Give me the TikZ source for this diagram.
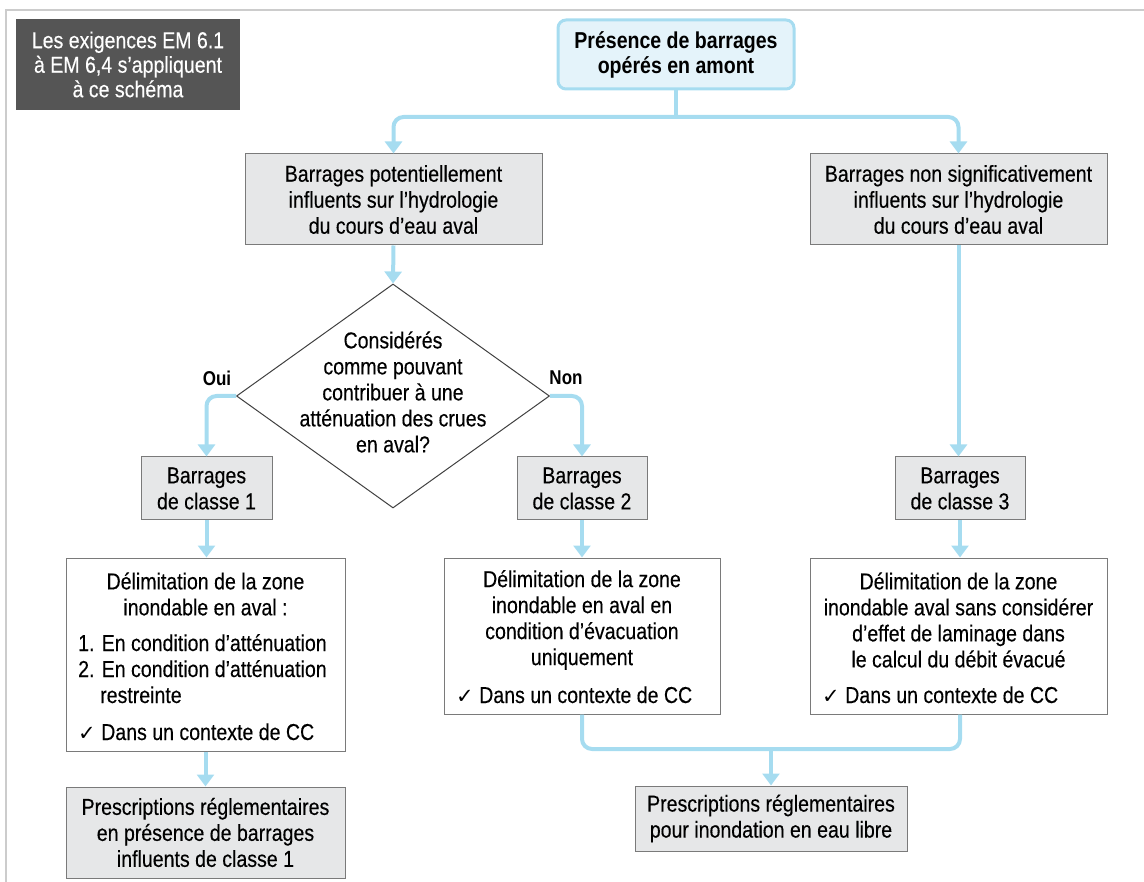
\documentclass[tikz,border=0pt]{standalone}
\usepackage{fontspec}
\setmainfont[FakeStretch=0.85, UprightFeatures={FakeBold=0.3}]{Liberation Sans}
\newfontfamily\symf{DejaVu Sans}
\usetikzlibrary{arrows.meta,shapes.geometric}
\definecolor{lblue}{HTML}{A6DCF0}
\definecolor{pblue}{HTML}{E4F3FA}
\definecolor{gfill}{HTML}{E6E7E8}
\definecolor{gline}{HTML}{7A7A7A}
\definecolor{darkbox}{HTML}{555555}
\definecolor{framec}{HTML}{CCCCCC}
\tikzset{
 txt/.style={font=\fontsize{23}{26}\selectfont, inner sep=0pt, align=center},
 ltxt/.style={font=\fontsize{23}{26}\selectfont, inner sep=0pt, anchor=base west},
 graybox/.style={draw=gline, fill=gfill, line width=1pt, inner sep=0pt, txt},
 whitebox/.style={draw=gline, fill=white, line width=1pt, inner sep=0pt},
 conn/.style={draw=lblue, line width=4pt, rounded corners=10pt},
 arr/.style={conn, -{Triangle[width=17pt,length=12pt]}},
 lab/.style={font=\bfseries\fontsize{20}{22}\selectfont, inner sep=0pt},
}
\newcommand{\chk}{{\symf\fontsize{21}{22}\selectfont ✓}\ }
\begin{document}
\begin{tikzpicture}[x=1pt,y=-1pt]
\useasboundingbox (0,0) rectangle (1144,882);
\draw[framec, line width=1.5pt] (6,882) -- (6,10) -- (1144,10);

% note box
\node[fill=darkbox, text=white, minimum width=224pt, minimum height=91pt, inner sep=0pt, align=center,
  font=\fontsize{23}{24.5}\selectfont] (N) at (128,64.5) {Les exigences EM 6.1\\à EM 6,4 s’appliquent\\à ce schéma};

% top box
\node[draw=lblue, fill=pblue, line width=3pt, rounded corners=8pt, minimum width=236pt, minimum height=69pt,
  inner sep=0pt, align=center, font=\bfseries\fontsize{23}{25}\selectfont] (T) at (676,54.5) {Présence de barrages\\opérés en amont};

\node[graybox, minimum width=297pt, minimum height=91pt] (A) at (393.5,199.5) {Barrages potentiellement\\influents sur l’hydrologie\\du cours d’eau aval};
\node[graybox, minimum width=297pt, minimum height=91pt] (B) at (958.5,199.5) {Barrages non significativement\\influents sur l’hydrologie\\du cours d’eau aval};

\node[diamond, draw=black!75, line width=1pt, minimum width=313pt, minimum height=224pt, inner sep=0pt] (Dm) at (393,396) {};
\node[txt] (Dmt) at (393,392) {Considérés\\comme pouvant\\contribuer à une\\atténuation des crues\\en aval?};
\node[lab] (oui) at (217,378) {Oui};
\node[lab] (non) at (566,378) {Non};

\node[graybox, minimum width=131pt, minimum height=63pt] (C1) at (206.5,488.5) {Barrages\\de classe 1};
\node[graybox, minimum width=130pt, minimum height=63pt] (C2) at (582,488.5) {Barrages\\de classe 2};
\node[graybox, minimum width=130pt, minimum height=63pt] (C3) at (960,488.5) {Barrages\\de classe 3};

\node[whitebox, minimum width=279pt, minimum height=193pt] (D1) at (205.5,654.5) {};
\node[whitebox, minimum width=276pt, minimum height=156pt] (D2) at (582,636) {};
\node[whitebox, minimum width=297pt, minimum height=156pt] (D3) at (958.5,636) {};

\node[txt] (D1h) at (205.5,594) {Délimitation de la zone\\inondable en aval :};
\node[ltxt] (D1a) at (78,651) {1. En condition d’atténuation};
\node[ltxt] (D1b) at (78,677) {2. En condition d’atténuation};
\node[ltxt] (D1c) at (100,703) {restreinte};
\node[ltxt] (D1d) at (78,740) {\chk Dans un contexte de CC};

\node[txt] (D2h) at (582,620) {Délimitation de la zone\\inondable en aval en\\condition d’évacuation\\uniquement};
\node[ltxt] (D2d) at (456,703) {\chk Dans un contexte de CC};

\node[txt] (D3h) at (958.5,620) {Délimitation de la zone\\inondable aval sans considérer\\d’effet de laminage dans\\le calcul du débit évacué};
\node[ltxt] (D3d) at (822,703) {\chk Dans un contexte de CC};

\node[graybox, minimum width=279pt, minimum height=91pt] (E1) at (205.5,832.5) {Prescriptions réglementaires\\en présence de barrages\\influents de classe 1};
\node[graybox, minimum width=272pt, minimum height=65pt] (E2) at (771,818.5) {Prescriptions réglementaires\\pour inondation en eau libre};

% connectors
\coordinate (j1) at (676,117);
\coordinate (j2) at (771,749);
\draw[conn] (T.south) -- (j1);
\draw[arr] (j1) -| (A.north);
\draw[arr] (j1) -| (B.north);
\draw[arr] (A.south) -- (Dm.north);
\draw[arr] (Dm.west) -| (C1.north);
\draw[arr] (Dm.east) -| (C2.north);
\draw[arr] (B.south) -- (B.south |- C3.north);
\draw[arr] (C1.south) -- (C1.south |- D1.north);
\draw[arr] (C2.south) -- (D2.north);
\draw[arr] (C3.south) -- (C3.south |- D3.north);
\draw[arr] (D1.south) -- (E1.north);
\draw[conn] (D2.south) |- (j2) -| (C3.south |- D3.south);
\draw[arr] (j2) -- (E2.north);
\end{tikzpicture}
\end{document}
